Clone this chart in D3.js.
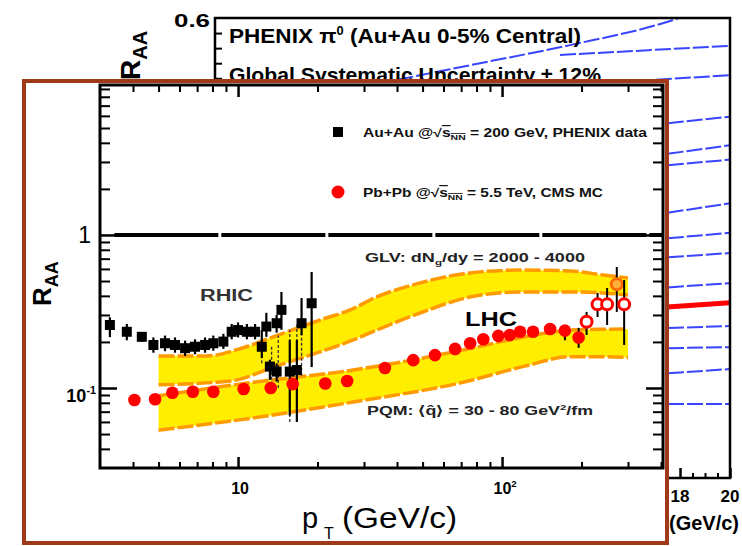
<!DOCTYPE html>
<html><head><meta charset="utf-8">
<script src="https://cdn.jsdelivr.net/npm/d3@7"></script>
<style>body{margin:0;background:#fff}svg{display:block}</style>
</head><body>
<svg id="c" width="742" height="546"></svg>
<script>
// ================= DATA =================
// RHIC: Au+Au 200 GeV, PHENIX data (pT GeV/c, R_AA, error low, error high)
const rhicPT  = [3.27,3.79,4.32,4.78,5.29,5.77,6.30,6.87,7.50,8.06,8.80,9.46,10.0,10.8,11.6,12.3,12.8,14.0,14.6,13.2,14.0,15.7,16.7,17.4,19.0];
const rhicRAA = [0.258,0.233,0.216,0.191,0.196,0.191,0.182,0.186,0.191,0.196,0.201,0.233,0.239,0.233,0.233,0.186,0.252,0.265,0.324,0.138,0.128,0.128,0.131,0.265,0.358];
const rhicLo  = [0.215,0.205,0.200,0.170,0.174,0.170,0.162,0.166,0.170,0.175,0.180,0.208,0.214,0.208,0.208,0.157,0.216,0.230,0.240,0.113,0.110,0.066,0.060,0.222,0.137];
const rhicHi  = [0.290,0.262,0.232,0.214,0.220,0.214,0.204,0.208,0.214,0.220,0.226,0.262,0.268,0.262,0.262,0.239,0.310,0.300,0.424,0.153,0.145,0.206,0.206,0.387,0.573];
// RHIC systematic (dotted) bands
const rhicSysPT = [12.3,13.4,14.2,15.7,16.7,17.4,19.0];
const rhicSysLo = [0.145,0.105,0.100,0.060,0.060,0.120,0.140];
const rhicSysHi = [0.230,0.190,0.220,0.240,0.260,0.330,0.300];

// LHC: Pb+Pb 5.5 TeV, CMS MC (filled)
const lhcPT  = [4.05,4.85,5.64,6.74,8.06,10.5,13.3,16.1,21.4,25.9,36.0,46.1,55.7,66.4,75.7,84.9,96.8,107,117,131,152,173,195];
const lhcRAA = [0.0835,0.0844,0.0931,0.0946,0.0946,0.0985,0.100,0.106,0.107,0.111,0.135,0.152,0.164,0.180,0.196,0.208,0.219,0.222,0.233,0.233,0.243,0.237,0.214];
const lhcLo  = [null,null,null,null,null,null,null,null,null,null,null,null,null,null,null,null,null,null,null,null,null,0.205,0.183];
const lhcHi  = [null,null,null,null,null,null,null,null,null,null,null,null,null,null,null,null,null,null,null,null,null,0.250,0.247];
// LHC open points
const lhcOpenPT  = [209,230,250,272,290];
const lhcOpenRAA = [0.271,0.352,0.352,0.476,0.352];
const lhcOpenLo  = [0.222,0.291,0.258,0.314,0.191];
const lhcOpenHi  = [0.314,0.418,0.450,0.618,0.508];

// GLV band (dNg/dy = 2000 - 4000)
const glvPT = [5.0,7.6,9.9,13.6,20.4,27.3,31.6,48.9,75.6,117,181,241,300];
const glvLo = [0.105,0.108,0.113,0.137,0.172,0.206,0.229,0.309,0.393,0.424,0.424,0.418,0.405];
const glvHi = [0.162,0.162,0.178,0.216,0.278,0.330,0.376,0.486,0.565,0.590,0.582,0.548,0.524];
// PQM band (<q> = 30 - 80 GeV^2/fm)
const pqmPT = [5.0,11.4,27.3,71.1,122,181,240,300];
const pqmLo = [0.053,0.0637,0.081,0.109,0.139,0.160,0.160,0.158];
const pqmHi = [0.089,0.109,0.131,0.177,0.216,0.239,0.242,0.243];

// axis ticks
const xMajor = [10,100];
const xMajorBase = ["10","10"];
const xMajorSup = ["","2"];
const xMinor = [4,5,6,7,8,9,20,30,40,50,60,70,80,90,200,300,400];
const yMajor = [0.1,1];
const yMajorBase = ["10","1"];
const yMajorSup = ["-1",""];
const yMinor = [0.04,0.05,0.06,0.07,0.08,0.09,0.2,0.3,0.4,0.5,0.6,0.7,0.8,0.9,2,3,4,5,6,7,8,9];

// background PHENIX panel (linear pT, R_AA)
const phenixCurves = [
  [[6.7,0.518],[10.0,0.540],[13.6,0.564],[17.7,0.597],[19.0,0.612]],
  [[13.2,0.551],[20,0.563]],
  [[14,0.512],[20,0.524]],
  [[16,0.455],[20,0.469]],
  [[16,0.413],[20,0.431]],
  [[16,0.400],[20,0.412]],
  [[16,0.334],[20,0.354]],
  [[16,0.303],[20,0.315]],
  [[16,0.279],[20,0.288]],
  [[16,0.239],[20,0.248]],
  [[16,0.187],[20,0.191]],
  [[16,0.161],[20,0.163]],
  [[16,0.125],[20,0.134]],
  [[16,0.0876],[20,0.0876]]
];
const phenixRed = [[16,0.213],[20,0.222]];
const bgYTicks = [0.02,0.04,0.06,0.08,0.1,0.12,0.14,0.16,0.18,0.2,0.22,0.24,0.26,0.28,0.3,0.32,0.34,0.36,0.38,0.4,0.42,0.44,0.46,0.48,0.5,0.52,0.54,0.56,0.58];
const bgXMajor = [18,20];
const bgXMinor = [16.5,17,17.5,18.5,19,19.5];

// ================= DRAW =================
const FONT = "'Liberation Sans', Arial, Helvetica, sans-serif";
const svg = d3.select("#c").attr("font-family", FONT);

// ---------- background PHENIX chart ----------
const bx = d3.scaleLinear().domain([-0.6,20]).range([215,730]);
const by = d3.scaleLinear().domain([-0.0106,0.6]).range([478,18]);
const yBot = -0.0106;
const bg = svg.append("g");
bg.append("clipPath").attr("id","bgclip").append("rect")
  .attr("x",bx(-0.6)).attr("y",by(0.6)).attr("width",bx(20)-bx(-0.6)).attr("height",by(yBot)-by(0.6));
const bline = d3.line().x(d=>bx(d[0])).y(d=>by(d[1])).curve(d3.curveMonotoneX);
const cg = bg.append("g").attr("clip-path","url(#bgclip)");
phenixCurves.forEach(c=>cg.append("path").attr("d",bline(c)).attr("fill","none")
  .attr("stroke","#2430ff").attr("stroke-width",2).attr("stroke-dasharray","16,3").attr("opacity",0.9));
cg.append("path").attr("d",bline(phenixRed)).attr("fill","none").attr("stroke","#ff0000").attr("stroke-width",5);
bg.append("rect").attr("x",bx(-0.6)).attr("y",by(0.6)).attr("width",bx(20)-bx(-0.6)).attr("height",by(yBot)-by(0.6))
  .attr("fill","none").attr("stroke","#000").attr("stroke-width",2.5);
bg.append("g").attr("transform",`translate(${bx(-0.6)},0)`)
  .call(d3.axisRight(by).tickValues(bgYTicks).tickSize(7).tickFormat(""))
  .call(g=>{g.select(".domain").remove();g.selectAll("line").attr("stroke-width",2);});
bg.append("g").attr("transform",`translate(0,${by(yBot)})`)
  .call(d3.axisTop(bx).tickValues(bgXMinor).tickSize(5).tickFormat(""))
  .call(g=>{g.select(".domain").remove();g.selectAll("line").attr("stroke-width",2);});
bg.append("g").attr("transform",`translate(0,${by(yBot)})`)
  .call(d3.axisTop(bx).tickValues(bgXMajor).tickSize(10).tickFormat(""))
  .call(g=>{g.select(".domain").remove();g.selectAll("line").attr("stroke-width",2.5);});
bgXMajor.forEach(v=>bg.append("text").attr("x",bx(v)).attr("y",502).attr("text-anchor","middle")
  .attr("font-size",17).attr("font-weight","bold").text(String(v)));
const bgT = bg.append("text").attr("x",739).attr("y",530).attr("text-anchor","end").attr("font-size",20).attr("font-weight","bold");
bgT.append("tspan").text("p");
bgT.append("tspan").attr("dy",4).attr("font-size",13).text("T");
bgT.append("tspan").attr("dy",-4).text(" (GeV/c)");
bg.append("text").attr("x",210).attr("y",27).attr("text-anchor","end").attr("font-size",19).attr("font-weight","bold")
  .attr("textLength",36).attr("lengthAdjust","spacingAndGlyphs").text("0.6");
const bgR = bg.append("text").attr("transform","translate(140,80) rotate(-90)").attr("font-size",28).attr("font-weight","bold");
bgR.append("tspan").text("R");
bgR.append("tspan").attr("dy",7).attr("font-size",20).text("AA");
const t1 = bg.append("text").attr("x",229).attr("y",43).attr("font-size",21).attr("font-weight","bold")
  .attr("textLength",352).attr("lengthAdjust","spacingAndGlyphs");
t1.append("tspan").text("PHENIX \u03c0");
t1.append("tspan").attr("dy",-8).attr("font-size",12).text("0");
t1.append("tspan").attr("dy",8).text(" (Au+Au 0-5% Central)");
bg.append("text").attr("x",229).attr("y",82).attr("font-size",21).attr("font-weight","bold")
  .attr("textLength",372).attr("lengthAdjust","spacingAndGlyphs").text("Global Systematic Uncertainty \u00b1 12%");

// ---------- foreground box ----------
svg.append("rect").attr("x",24).attr("y",81).attr("width",643).attr("height",462)
  .attr("fill","#fff").attr("stroke","#a0381a").attr("stroke-width",4);

// ---------- inner chart ----------
const x = d3.scaleLog().domain([3,407]).range([100,663]);
const y = d3.scaleLog().domain([0.03,9.55]).range([468,85]);
const g = svg.append("g");

// bands
function band(pt, lo, hi){
  const pts = pt.map((p,i)=>({p, lo:lo[i], hi:hi[i]}));
  const cur = d3.curveMonotoneX;
  g.append("path").attr("d", d3.area().x(d=>x(d.p)).y0(d=>y(d.lo)).y1(d=>y(d.hi)).curve(cur)(pts))
    .attr("fill","#ffee00");
  ["lo","hi"].forEach(k=>g.append("path").attr("d", d3.line().x(d=>x(d.p)).y(d=>y(d[k])).curve(cur)(pts))
    .attr("fill","none").attr("stroke","#ff9a00").attr("stroke-width",3.5).attr("stroke-dasharray","16,3"));
}
band(glvPT, glvLo, glvHi);
band(pqmPT, pqmLo, pqmHi);

// axis frame + ticks
function ticks(axis, tx, ty, vals, size, sw){
  g.append("g").attr("transform",`translate(${tx},${ty})`)
    .call(axis.tickValues(vals).tickSize(size).tickFormat(""))
    .call(s=>{s.select(".domain").remove();s.selectAll("line").attr("stroke","#000").attr("stroke-width",sw);});
}
ticks(d3.axisTop(x),0,468,xMinor,6,2);
ticks(d3.axisTop(x),0,468,xMajor,11,2.5);
ticks(d3.axisBottom(x),0,85,xMinor,7,2);
ticks(d3.axisBottom(x),0,85,xMajor,12,2.5);
ticks(d3.axisRight(y),100,0,yMinor,10,2);
ticks(d3.axisRight(y),100,0,yMajor,17,2.5);
ticks(d3.axisLeft(y),663,0,yMinor,10,2);
ticks(d3.axisLeft(y),663,0,yMajor,17,2.5);
g.append("rect").attr("x",100).attr("y",85).attr("width",563).attr("height",383)
  .attr("fill","none").attr("stroke","#000").attr("stroke-width",3);
// line at R_AA = 1
g.append("line").attr("x1",x(3.4)).attr("x2",x(407)).attr("y1",y(1)).attr("y2",y(1))
  .attr("stroke","#000").attr("stroke-width",4).attr("stroke-dasharray","104,3");

// RHIC systematic dotted lines
rhicSysPT.forEach((p,i)=>g.append("line").attr("x1",x(p)).attr("x2",x(p))
  .attr("y1",y(rhicSysLo[i])).attr("y2",y(rhicSysHi[i]))
  .attr("stroke","#333").attr("stroke-width",1.3).attr("stroke-dasharray","3,2"));
// RHIC error bars + squares
rhicPT.forEach((p,i)=>{
  g.append("line").attr("x1",x(p)).attr("x2",x(p)).attr("y1",y(rhicLo[i])).attr("y2",y(rhicHi[i]))
    .attr("stroke","#000").attr("stroke-width",2.2);
  g.append("rect").attr("x",x(p)-5).attr("y",y(rhicRAA[i])-5).attr("width",10).attr("height",10).attr("fill","#000");
});
// LHC
lhcPT.forEach((p,i)=>{
  if(lhcLo[i]!=null) g.append("line").attr("x1",x(p)).attr("x2",x(p)).attr("y1",y(lhcLo[i])).attr("y2",y(lhcHi[i]))
    .attr("stroke","#000").attr("stroke-width",2);
  g.append("circle").attr("cx",x(p)).attr("cy",y(lhcRAA[i])).attr("r",6.3).attr("fill","#ff0000");
});
lhcOpenPT.forEach((p,i)=>{
  g.append("line").attr("x1",x(p)).attr("x2",x(p)).attr("y1",y(lhcOpenLo[i])).attr("y2",y(lhcOpenHi[i]))
    .attr("stroke","#000").attr("stroke-width",2);
  const hi = lhcOpenRAA[i] > 0.4;
  g.append("circle").attr("cx",x(p)).attr("cy",y(lhcOpenRAA[i])).attr("r",5.5)
    .attr("fill", hi ? "#ffb13b" : "#fff").attr("stroke", hi ? "#ff6a00" : "#ff0000").attr("stroke-width",3);
});

// tick labels
function supText(sel, base, sup, fs){
  sel.append("tspan").text(base);
  if(sup) sel.append("tspan").attr("dy",-fs*0.45).attr("font-size",fs*0.6).text(sup);
}
xMajor.forEach((v,i)=>{
  const t = g.append("text").attr("x",x(v)+(xMajorSup[i]?3:2)).attr("y",494).attr("text-anchor","middle")
    .attr("font-size",16).attr("font-weight","bold");
  supText(t, xMajorBase[i], xMajorSup[i], 16);
});
yMajor.forEach((v,i)=>{
  const fs = yMajorSup[i] ? 18 : 23;
  const t = g.append("text").attr("x",yMajorSup[i]?96:91).attr("y",y(v)+(yMajorSup[i]?14:8)).attr("text-anchor","end")
    .attr("font-size",fs).attr("font-weight",yMajorSup[i]?"bold":"normal");
  supText(t, yMajorBase[i], yMajorSup[i], fs);
});

// axis titles
const ry = g.append("text").attr("transform","translate(51,306) rotate(-90)").attr("font-size",26).attr("font-weight","bold");
ry.append("tspan").text("R");
ry.append("tspan").attr("dy",7).attr("font-size",18).text("AA");
g.append("text").attr("x",302).attr("y",528).attr("font-size",29).text("p");
g.append("text").attr("x",324).attr("y",539).attr("font-size",16).text("T");
g.append("text").attr("x",342).attr("y",528).attr("font-size",29)
  .attr("textLength",115).attr("lengthAdjust","spacingAndGlyphs").text("(GeV/c)");

// legend
g.append("rect").attr("x",333).attr("y",127).attr("width",10).attr("height",10).attr("fill","#000");
g.append("circle").attr("cx",338).attr("cy",192).attr("r",6.5).attr("fill","#ff0000");
function sqrtLabel(tx, ty, pre, post, len){
  const t = g.append("text").attr("x",tx).attr("y",ty).attr("font-size",12).attr("font-weight","bold")
    .attr("textLength",len).attr("lengthAdjust","spacingAndGlyphs").attr("fill","#111");
  t.append("tspan").text(pre + "\u221a");
  t.append("tspan").attr("text-decoration","overline").text("s");
  t.append("tspan").attr("dy",3).attr("font-size",8).attr("text-decoration","overline").text("NN");
  t.append("tspan").attr("dy",-3).text(post);
}
sqrtLabel(363,137,"Au+Au @"," = 200 GeV, PHENIX data",284);
sqrtLabel(363,197,"Pb+Pb @"," = 5.5 TeV, CMS MC",240);

const glv = g.append("text").attr("x",365).attr("y",262).attr("font-size",12.5).attr("font-weight","bold")
  .attr("textLength",220).attr("lengthAdjust","spacingAndGlyphs").attr("fill","#222");
glv.append("tspan").text("GLV: dN");
glv.append("tspan").attr("dy",3).attr("font-size",8).text("g");
glv.append("tspan").attr("dy",-3).text("/dy = 2000 - 4000");

const pqm = g.append("text").attr("x",367).attr("y",415).attr("font-size",12.5).attr("font-weight","bold")
  .attr("textLength",226).attr("lengthAdjust","spacingAndGlyphs").attr("fill","#222");
pqm.append("tspan").text("PQM: \u27e8q\u0302\u27e9 = 30 - 80 GeV");
pqm.append("tspan").attr("dy",-5).attr("font-size",8).text("2");
pqm.append("tspan").attr("dy",5).text("/fm");

g.append("text").attr("x",200).attr("y",301).attr("font-size",16).attr("font-weight","bold").attr("fill","#333")
  .attr("textLength",53).attr("lengthAdjust","spacingAndGlyphs").text("RHIC");
g.append("text").attr("x",465).attr("y",326).attr("font-size",21).attr("font-weight","bold").attr("fill","#000")
  .attr("textLength",52).attr("lengthAdjust","spacingAndGlyphs").text("LHC");
</script>
</body></html>
